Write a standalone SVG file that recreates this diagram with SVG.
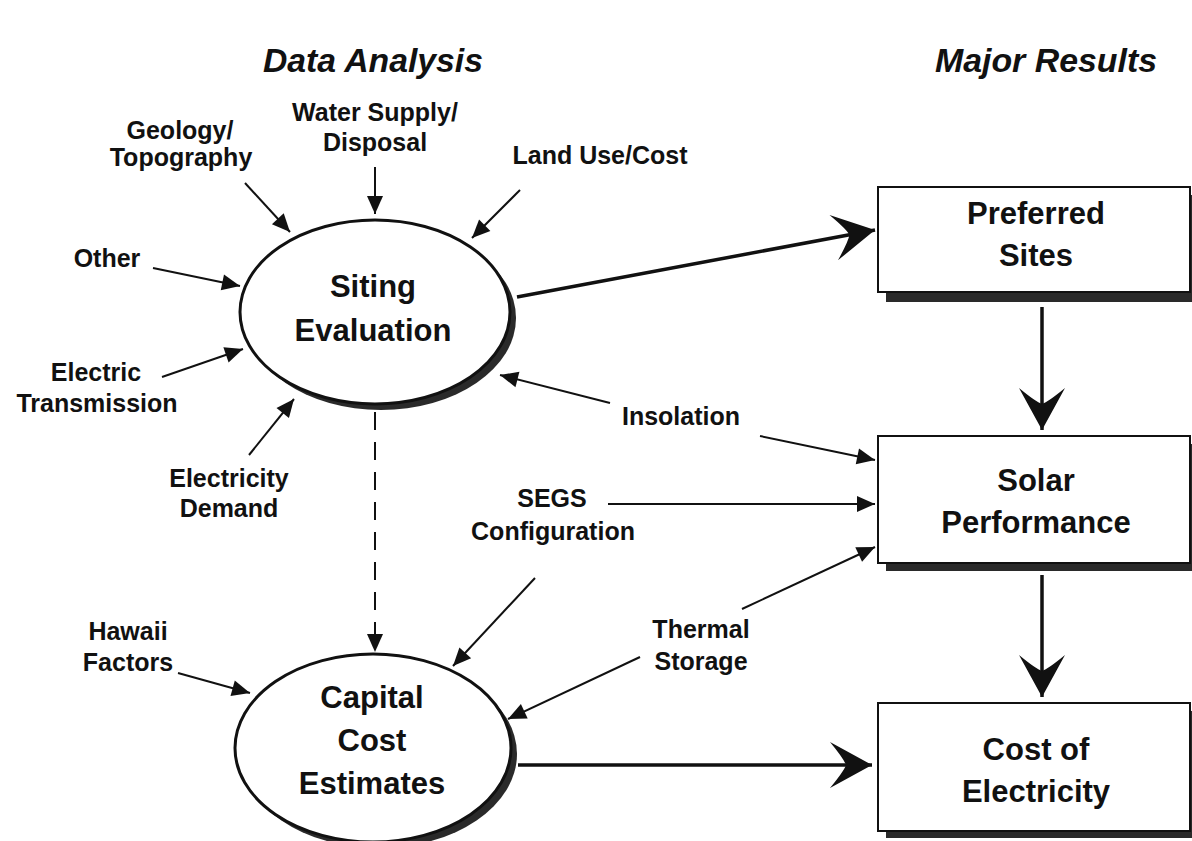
<svg xmlns="http://www.w3.org/2000/svg" width="1192" height="841" viewBox="0 0 1192 841">
<defs>
<style>
.lbl{font-family:"Liberation Sans",Arial,sans-serif;font-weight:bold;font-size:25px;fill:#111;text-anchor:middle}
.node{font-family:"Liberation Sans",Arial,sans-serif;font-weight:bold;font-size:31px;fill:#111;text-anchor:middle}
.hdr{font-family:"Liberation Sans",Arial,sans-serif;font-weight:bold;font-style:italic;font-size:34px;fill:#111;text-anchor:middle}
.ell{fill:#fff;stroke:#111;stroke-width:3}
.shd{fill:#2a2a2a}
.box{fill:#fff;stroke:#111;stroke-width:2}
.sm{stroke:#111;stroke-width:2;fill:none;marker-end:url(#ah)}
.big{stroke:#111;stroke-width:3.5;fill:none;marker-end:url(#bh)}
</style>
<marker id="ah" markerUnits="userSpaceOnUse" viewBox="-19 -9 20 18" refX="0" refY="0" markerWidth="20" markerHeight="18" orient="auto">
<path d="M0,0 L-18,-8 L-18,8 Z" fill="#111"/>
</marker>
<marker id="bh" markerUnits="userSpaceOnUse" viewBox="-44 -25 46 50" refX="0" refY="0" markerWidth="46" markerHeight="50" orient="auto">
<path d="M0,0 L-42,-23 Q-28,-6 -26,0 Q-28,6 -42,23 Z" fill="#111"/>
</marker>
</defs>
<rect width="1192" height="841" fill="#fff"/>

<g id="headers">
<text class="hdr" x="373" y="72" textLength="220" lengthAdjust="spacingAndGlyphs">Data Analysis</text>
<text class="hdr" x="1046" y="72" textLength="222" lengthAdjust="spacingAndGlyphs">Major Results</text>
</g>

<g id="siting-evaluation">
<ellipse class="shd" cx="381" cy="318" rx="135" ry="92"/>
<ellipse class="ell" cx="375" cy="312" rx="135" ry="92"/>
<text class="node" x="373" y="297">Siting</text>
<text class="node" x="373" y="341">Evaluation</text>
</g>

<g id="capital-cost-estimates">
<ellipse class="shd" cx="379" cy="754" rx="138" ry="94"/>
<ellipse class="ell" cx="373" cy="748" rx="138" ry="94"/>
<text class="node" x="372" y="708">Capital</text>
<text class="node" x="372" y="751">Cost</text>
<text class="node" x="372" y="794">Estimates</text>
</g>

<g id="preferred-sites">
<rect class="shd" x="886" y="195" width="312" height="107"/>
<rect class="box" x="878" y="187" width="312" height="105"/>
<text class="node" x="1036" y="224">Preferred</text>
<text class="node" x="1036" y="266">Sites</text>
</g>

<g id="solar-performance">
<rect class="shd" x="886" y="444" width="312" height="127"/>
<rect class="box" x="878" y="436" width="312" height="127"/>
<text class="node" x="1036" y="491">Solar</text>
<text class="node" x="1036" y="533">Performance</text>
</g>

<g id="cost-of-electricity">
<rect class="shd" x="886" y="711" width="312" height="127"/>
<rect class="box" x="878" y="703" width="312" height="128"/>
<text class="node" x="1036" y="760">Cost of</text>
<text class="node" x="1036" y="802">Electricity</text>
</g>

<g id="labels">
<text class="lbl" x="180" y="139">Geology/</text>
<text class="lbl" x="181" y="166">Topography</text>
<text class="lbl" x="375" y="121">Water Supply/</text>
<text class="lbl" x="375" y="151">Disposal</text>
<text class="lbl" x="600" y="164">Land Use/Cost</text>
<text class="lbl" x="107" y="267">Other</text>
<text class="lbl" x="96" y="381">Electric</text>
<text class="lbl" x="97" y="412">Transmission</text>
<text class="lbl" x="229" y="487">Electricity</text>
<text class="lbl" x="229" y="517">Demand</text>
<text class="lbl" x="681" y="425">Insolation</text>
<text class="lbl" x="552" y="507">SEGS</text>
<text class="lbl" x="553" y="540">Configuration</text>
<text class="lbl" x="701" y="638">Thermal</text>
<text class="lbl" x="701" y="670">Storage</text>
<text class="lbl" x="128" y="640">Hawaii</text>
<text class="lbl" x="128" y="671">Factors</text>
</g>

<g id="connectors">
<line class="sm" x1="245" y1="183" x2="290" y2="232"/>
<line class="sm" x1="375" y1="167" x2="375" y2="214"/>
<line class="sm" x1="520" y1="190" x2="472" y2="238"/>
<line class="sm" x1="153" y1="268" x2="240" y2="286"/>
<line class="sm" x1="162" y1="377" x2="243" y2="349"/>
<line class="sm" x1="249" y1="455" x2="294" y2="399"/>
<line class="sm" x1="610" y1="403" x2="500" y2="375"/>
<line class="sm" x1="760" y1="436" x2="875" y2="460"/>
<line class="sm" x1="608" y1="504" x2="875" y2="504"/>
<line class="sm" x1="535" y1="578" x2="453" y2="666"/>
<line class="sm" x1="742" y1="609" x2="875" y2="547"/>
<line class="sm" x1="640" y1="657" x2="508" y2="719"/>
<line class="sm" x1="178" y1="673" x2="250" y2="693"/>
<line class="sm" x1="375" y1="412" x2="375" y2="652" stroke-dasharray="18 12"/>
<line class="big" x1="517" y1="297" x2="875" y2="230"/>
<line class="big" x1="518" y1="765" x2="872" y2="765" stroke-width="3"/>
<line class="big" x1="1042" y1="307" x2="1042" y2="430" stroke-width="3"/>
<line class="big" x1="1042" y1="575" x2="1042" y2="697" stroke-width="3"/>
</g>
</svg>
